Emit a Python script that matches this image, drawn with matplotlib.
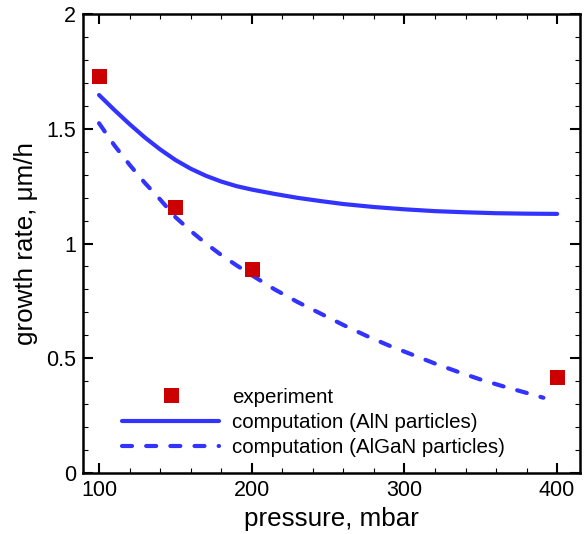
import matplotlib
matplotlib.use("Agg")
from matplotlib import pyplot as plt
from matplotlib.ticker import MultipleLocator, FixedLocator, FixedFormatter

plt.rcParams["font.family"] = ["Liberation Sans", "DejaVu Sans"]

# experiment
exp_p = [100, 150, 200, 400]
exp_rate = [1.73, 1.16, 0.89, 0.42]

# computation (AlN particles)
aln_p = [100, 110, 120, 130, 140, 150, 160, 170, 180, 190, 200, 215, 230, 245, 260, 280, 300, 320, 340, 360, 380, 400]
aln_rate = [1.647, 1.582, 1.52, 1.462, 1.41, 1.364, 1.326, 1.295, 1.27, 1.25, 1.235, 1.216, 1.199, 1.185, 1.172, 1.159, 1.149, 1.141, 1.136, 1.132, 1.13, 1.129]

# computation (AlGaN particles)
algan_p = [100, 110, 120, 130, 140, 150, 160, 170, 180, 190, 200, 215, 230, 245, 260, 275, 290, 305, 320, 335, 350, 365, 380, 391]
algan_rate = [1.524, 1.428, 1.343, 1.264, 1.192, 1.115, 1.055, 1.0, 0.95, 0.905, 0.862, 0.8, 0.745, 0.695, 0.645, 0.598, 0.555, 0.516, 0.477, 0.441, 0.407, 0.377, 0.349, 0.328]

fig = plt.figure(figsize=(5.85, 5.34), dpi=100)
ax = fig.add_axes([0.1419, 0.1142, 0.8496, 0.8596])

blue = "#3333ff"
ax.plot(exp_p, exp_rate, "s", color="#cc0000", markersize=10.8,
        markeredgewidth=0, label="experiment", zorder=3)
ax.plot(aln_p, aln_rate, "-", color=blue, lw=3, solid_capstyle="round",
        label="computation (AlN particles)")
ax.plot(algan_p, algan_rate, "--", color=blue, lw=3, dashes=(2.4, 3.4),
        dash_capstyle="round", label="computation (AlGaN particles)")

ax.set_xlim(89.5, 415)
ax.set_ylim(0, 2)

ax.xaxis.set_major_locator(FixedLocator([100, 200, 300, 400]))
ax.xaxis.set_minor_locator(MultipleLocator(20))
ax.yaxis.set_major_locator(FixedLocator([0, 0.5, 1, 1.5, 2]))
ax.yaxis.set_major_formatter(FixedFormatter(["0", "0.5", "1", "1.5", "2"]))
ax.yaxis.set_minor_locator(MultipleLocator(0.1))

ax.tick_params(which="both", direction="in", top=True, right=True,
               labelsize=15.5)
ax.tick_params(which="major", length=7, width=1.5, pad=5)
ax.tick_params(which="minor", length=3.5, width=0.8)
for s in ax.spines.values():
    s.set_linewidth(1.8)

ax.set_xlabel("pressure, mbar", fontsize=18.7, labelpad=4)
ax.set_ylabel("growth rate, μm/h", fontsize=18.7, labelpad=6)

ax.legend(loc="lower left", bbox_to_anchor=(0.078, 0.035), frameon=False,
          fontsize=14.8, handlelength=4.75, handletextpad=0.63,
          labelspacing=0.3, borderpad=0, borderaxespad=0)

plt.savefig("out.png", dpi=100)
plt.close("all")
